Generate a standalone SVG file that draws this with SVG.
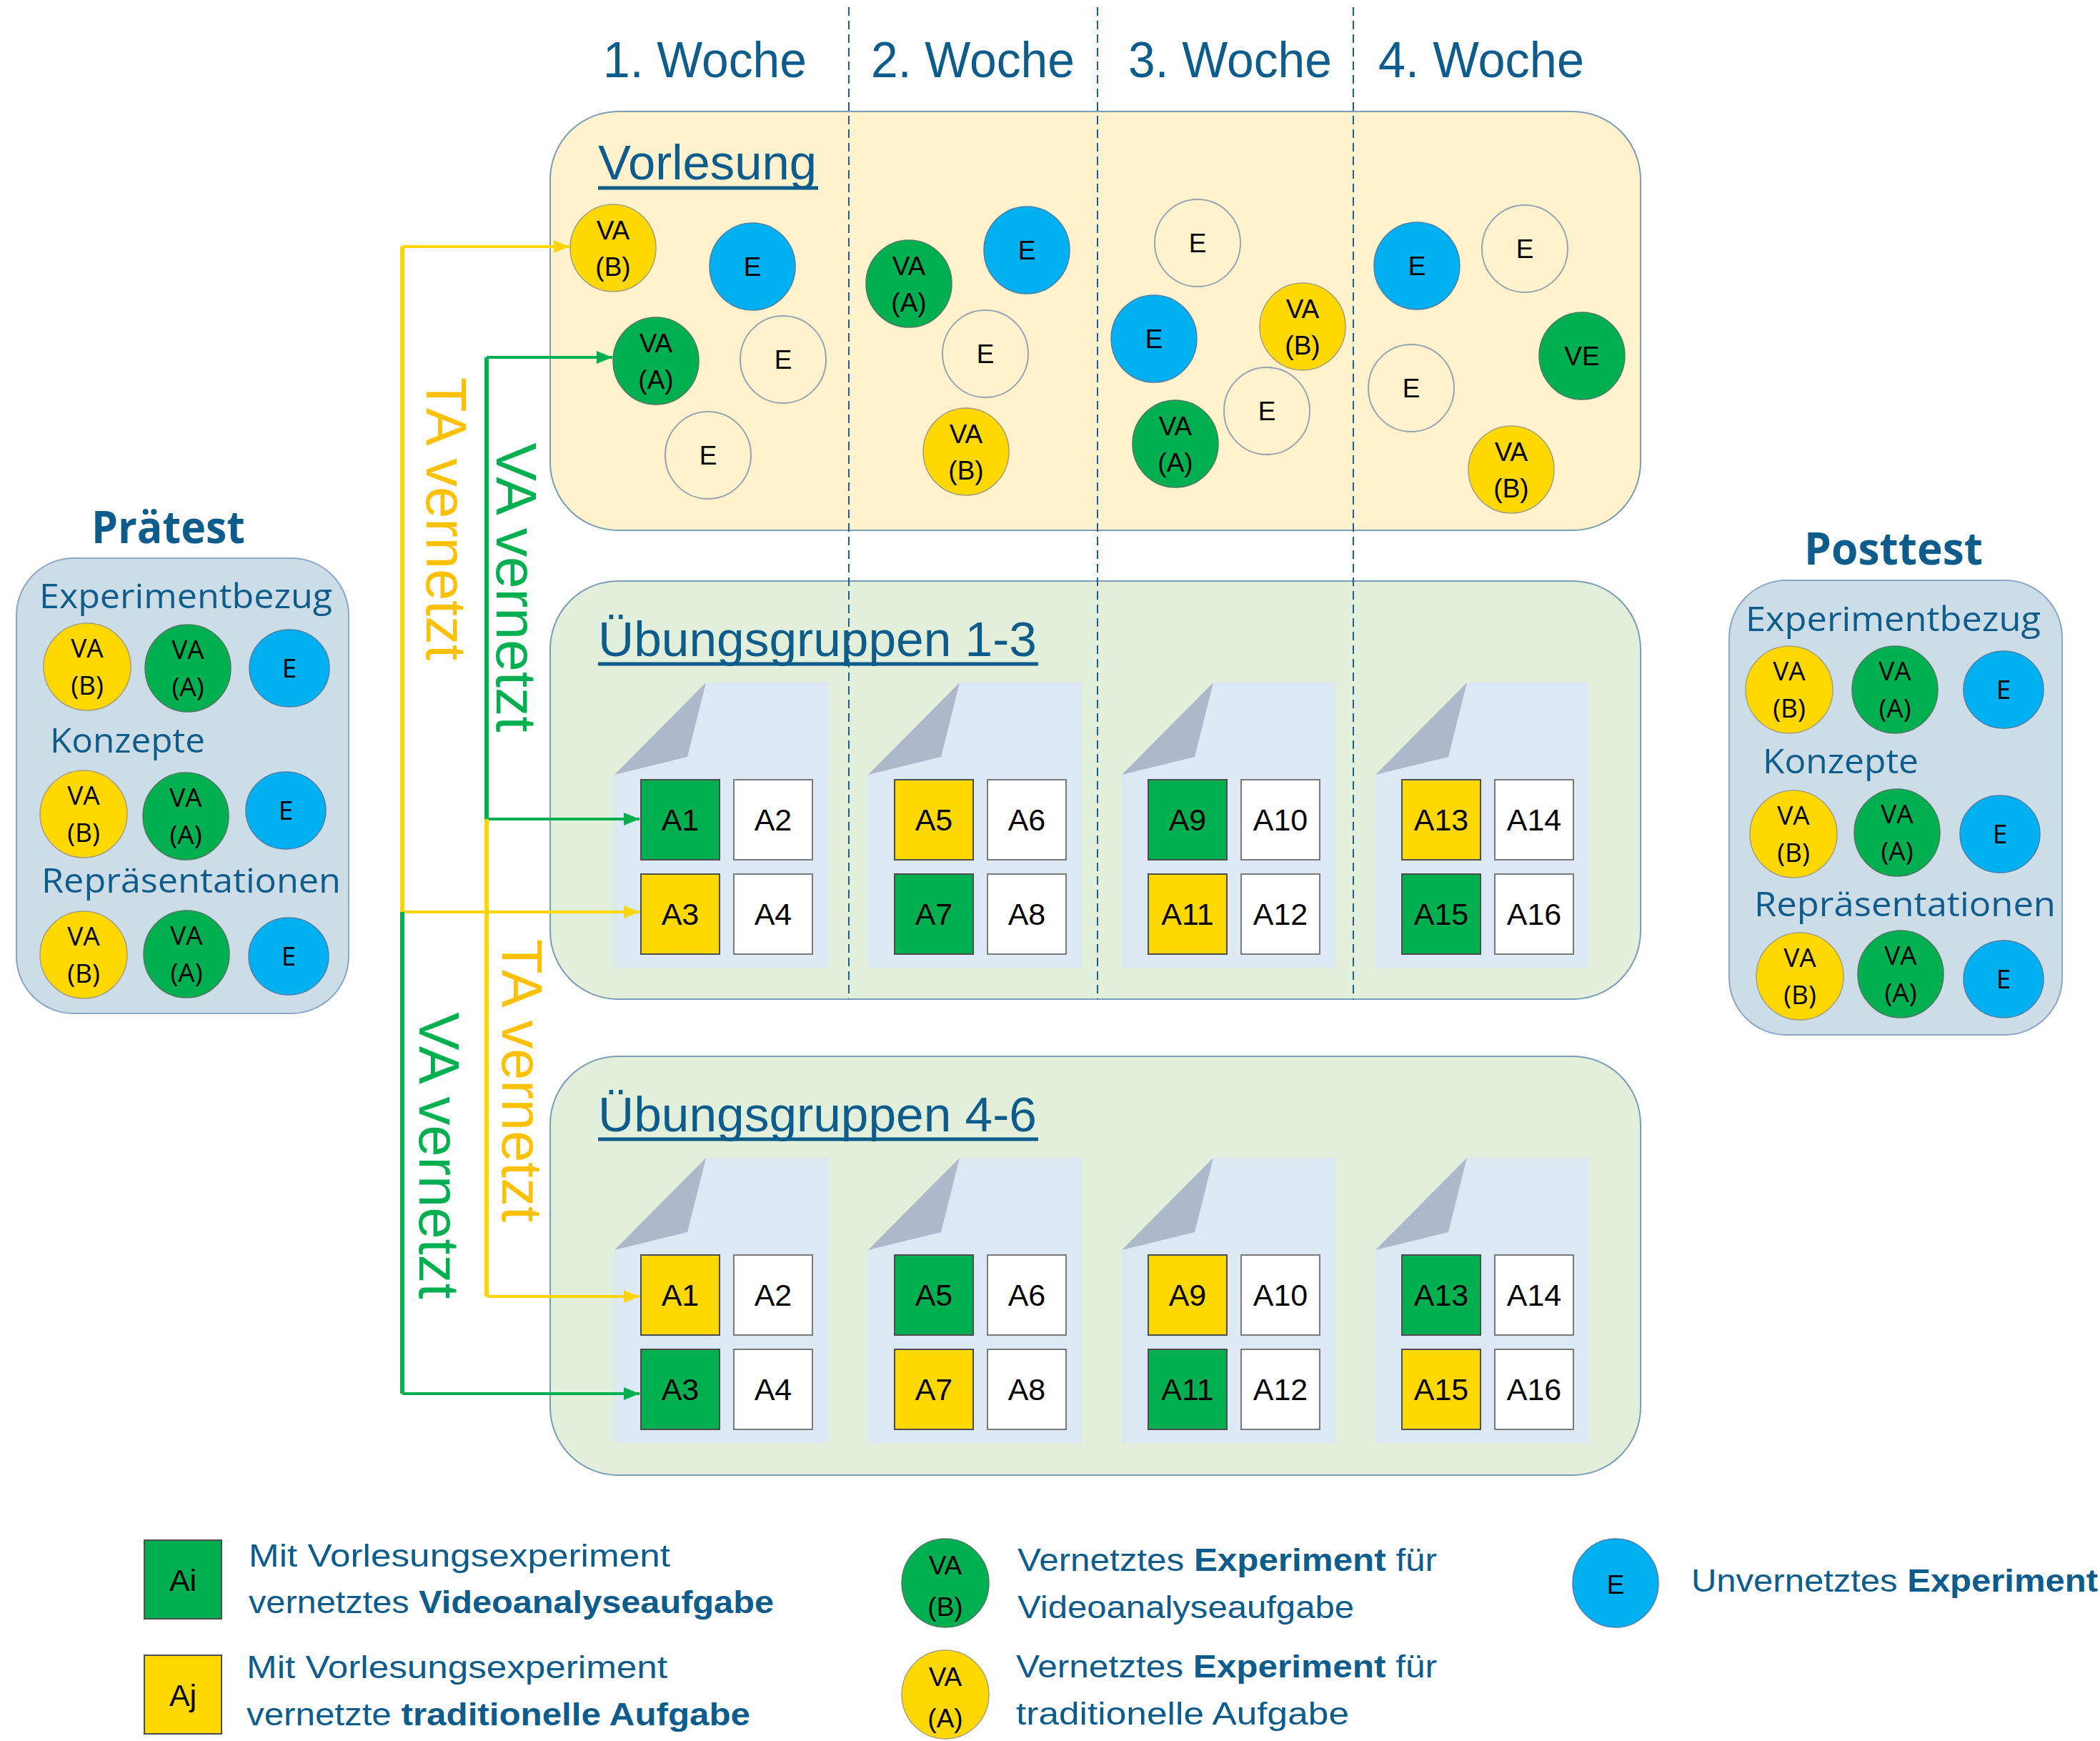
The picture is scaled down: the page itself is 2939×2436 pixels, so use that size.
<svg xmlns="http://www.w3.org/2000/svg" width="2939" height="2436" viewBox="0 0 2939 2436">
<defs>
<style>
.hd{font-family:"Liberation Sans",Arial,sans-serif;fill:#0D5C8C}
.os{font-family:"Open Sans","Liberation Sans",sans-serif;fill:#0D5C8C}
.ob{font-family:"Open Sans","Liberation Sans",sans-serif;font-weight:bold;fill:#0D5C8C}
.lb{font-family:"Liberation Sans",Arial,sans-serif;font-size:37px;fill:#000;text-anchor:middle}
.lo{font-family:"Open Sans","Liberation Sans",sans-serif;font-size:37px;fill:#000;text-anchor:middle}
.ax{font-family:"Liberation Sans",Arial,sans-serif;font-size:43px;fill:#000;text-anchor:middle}
.cy{fill:#FFD800;stroke:#A89F7A;stroke-width:1.5}
.cg{fill:#00AF50;stroke:#4A7A60;stroke-width:1.5}
.cb{fill:#00B0F0;stroke:#4A80A8;stroke-width:1.5}
.cw{fill:none;stroke:#98A4B4;stroke-width:2}
.bv{fill:#FFF2CC;stroke:#7C9CB8;stroke-width:2}
.bu{fill:#E2EFDA;stroke:#7C9CB8;stroke-width:2}
.bp{fill:#CCDDE8;stroke:#8CA6C6;stroke-width:2}
.pg{fill:#DCE8F4}
.fd{fill:#ADB9CA}
.xg{fill:#00AF50;stroke:#4D4D4D;stroke-width:2}
.xy{fill:#FFD800;stroke:#4D4D4D;stroke-width:2}
.xw{fill:#FFFFFF;stroke:#7A7A7A;stroke-width:2}
.dash{stroke:#1F5F8E;stroke-width:2;stroke-dasharray:12 7;fill:none}
.ul{stroke:#0D5C8C;stroke-width:5}
.ly{stroke:#FFD500;fill:none}
.lg{stroke:#00AF50;fill:none}
.rt{font-family:"Liberation Sans",Arial,sans-serif;font-size:80px;text-anchor:middle}
.lt{font-family:"Liberation Sans",Arial,sans-serif;font-size:45px;fill:#0D5C8C}
</style>
<marker id="ay" markerUnits="userSpaceOnUse" markerWidth="24" markerHeight="18" refX="22" refY="9" orient="auto"><path d="M0,0 L22,9 L0,18 Z" fill="#FFD500"/></marker>
<marker id="ag" markerUnits="userSpaceOnUse" markerWidth="24" markerHeight="18" refX="22" refY="9" orient="auto"><path d="M0,0 L22,9 L0,18 Z" fill="#00AF50"/></marker>
</defs>
<rect width="2939" height="2436" fill="#FFFFFF"/>

<!-- Week headings -->
<g id="weeks">
<text class="hd" x="844" y="108" font-size="71" textLength="285" lengthAdjust="spacingAndGlyphs">1. Woche</text>
<text class="hd" x="1219" y="108" font-size="71" textLength="285" lengthAdjust="spacingAndGlyphs">2. Woche</text>
<text class="hd" x="1579" y="108" font-size="71" textLength="285" lengthAdjust="spacingAndGlyphs">3. Woche</text>
<text class="hd" x="1929" y="108" font-size="71" textLength="288" lengthAdjust="spacingAndGlyphs">4. Woche</text>
</g>

<!-- Vorlesung -->
<g id="vorlesung">
<rect class="bv" x="770" y="156" width="1526" height="586" rx="95"/>
<text class="hd" x="837" y="251" font-size="68" textLength="306" lengthAdjust="spacingAndGlyphs">Vorlesung</text>
<line class="ul" x1="837" y1="263" x2="1145" y2="263"/>
</g>

<!-- Übungsgruppen 1-3 -->
<g id="uebung13">
<rect class="bu" x="770" y="813" width="1526" height="585" rx="95"/>
<text class="hd" x="837" y="918" font-size="68" textLength="614" lengthAdjust="spacingAndGlyphs">Übungsgruppen 1-3</text>
<line class="ul" x1="837" y1="929" x2="1453" y2="929"/>
</g>

<!-- Übungsgruppen 4-6 -->
<g id="uebung46">
<rect class="bu" x="770" y="1478" width="1526" height="586" rx="95"/>
<text class="hd" x="837" y="1583" font-size="68" textLength="614" lengthAdjust="spacingAndGlyphs">Übungsgruppen 4-6</text>
<line class="ul" x1="837" y1="1594" x2="1453" y2="1594"/>
</g>

<!-- Vorlesung experiments -->
<g id="v1-vab"><ellipse class="cy" cx="858" cy="347" rx="60" ry="61"/><text class="lb" x="858" y="335">VA</text><text class="lb" x="858" y="386">(B)</text></g>
<g id="v1-e1"><ellipse class="cb" cx="1053" cy="373" rx="60" ry="61"/><text class="lb" x="1053" y="386">E</text></g>
<g id="v1-vaa"><ellipse class="cg" cx="918" cy="505" rx="60" ry="61"/><text class="lb" x="918" y="493">VA</text><text class="lb" x="918" y="544">(A)</text></g>
<g id="v1-e2"><ellipse class="cw" cx="1096" cy="503" rx="60" ry="61"/><text class="lb" x="1096" y="516">E</text></g>
<g id="v1-e3"><ellipse class="cw" cx="991" cy="637" rx="60" ry="61"/><text class="lb" x="991" y="650">E</text></g>

<g id="v2-vaa"><ellipse class="cg" cx="1272" cy="397" rx="60" ry="61"/><text class="lb" x="1272" y="385">VA</text><text class="lb" x="1272" y="436">(A)</text></g>
<g id="v2-e1"><ellipse class="cb" cx="1437" cy="350" rx="60" ry="61"/><text class="lb" x="1437" y="363">E</text></g>
<g id="v2-e2"><ellipse class="cw" cx="1379" cy="495" rx="60" ry="61"/><text class="lb" x="1379" y="508">E</text></g>
<g id="v2-vab"><ellipse class="cy" cx="1352" cy="632" rx="60" ry="61"/><text class="lb" x="1352" y="620">VA</text><text class="lb" x="1352" y="671">(B)</text></g>

<g id="v3-e1"><ellipse class="cw" cx="1676" cy="340" rx="60" ry="61"/><text class="lb" x="1676" y="353">E</text></g>
<g id="v3-e2"><ellipse class="cb" cx="1615" cy="474" rx="60" ry="61"/><text class="lb" x="1615" y="487">E</text></g>
<g id="v3-vab"><ellipse class="cy" cx="1823" cy="457" rx="60" ry="61"/><text class="lb" x="1823" y="445">VA</text><text class="lb" x="1823" y="496">(B)</text></g>
<g id="v3-e3"><ellipse class="cw" cx="1773" cy="575" rx="60" ry="61"/><text class="lb" x="1773" y="588">E</text></g>
<g id="v3-vaa"><ellipse class="cg" cx="1645" cy="621" rx="60" ry="61"/><text class="lb" x="1645" y="609">VA</text><text class="lb" x="1645" y="660">(A)</text></g>

<g id="v4-e1"><ellipse class="cb" cx="1983" cy="372" rx="60" ry="61"/><text class="lb" x="1983" y="385">E</text></g>
<g id="v4-e2"><ellipse class="cw" cx="2134" cy="348" rx="60" ry="61"/><text class="lb" x="2134" y="361">E</text></g>
<g id="v4-ve"><ellipse class="cg" cx="2214" cy="498" rx="60" ry="61"/><text class="lb" x="2214" y="511">VE</text></g>
<g id="v4-e3"><ellipse class="cw" cx="1975" cy="543" rx="60" ry="61"/><text class="lb" x="1975" y="556">E</text></g>
<g id="v4-vab"><ellipse class="cy" cx="2115" cy="657" rx="60" ry="61"/><text class="lb" x="2115" y="645">VA</text><text class="lb" x="2115" y="696">(B)</text></g>

<!-- Worksheets group 1-3 -->
<g id="ws13-1" transform="translate(860,955)">
<polygon class="pg" points="128,0 299,0 299,399 0,399 0,129"/><polygon class="fd" points="128,0 102,104 0,129"/>
<rect class="xg" x="37" y="136" width="110" height="112"/><text class="ax" x="92" y="207">A1</text>
<rect class="xw" x="167" y="136" width="110" height="112"/><text class="ax" x="222" y="207">A2</text>
<rect class="xy" x="37" y="268" width="110" height="112"/><text class="ax" x="92" y="339">A3</text>
<rect class="xw" x="167" y="268" width="110" height="112"/><text class="ax" x="222" y="339">A4</text>
</g>
<g id="ws13-2" transform="translate(1215,955)">
<polygon class="pg" points="128,0 299,0 299,399 0,399 0,129"/><polygon class="fd" points="128,0 102,104 0,129"/>
<rect class="xy" x="37" y="136" width="110" height="112"/><text class="ax" x="92" y="207">A5</text>
<rect class="xw" x="167" y="136" width="110" height="112"/><text class="ax" x="222" y="207">A6</text>
<rect class="xg" x="37" y="268" width="110" height="112"/><text class="ax" x="92" y="339">A7</text>
<rect class="xw" x="167" y="268" width="110" height="112"/><text class="ax" x="222" y="339">A8</text>
</g>
<g id="ws13-3" transform="translate(1570,955)">
<polygon class="pg" points="128,0 299,0 299,399 0,399 0,129"/><polygon class="fd" points="128,0 102,104 0,129"/>
<rect class="xg" x="37" y="136" width="110" height="112"/><text class="ax" x="92" y="207">A9</text>
<rect class="xw" x="167" y="136" width="110" height="112"/><text class="ax" x="222" y="207">A10</text>
<rect class="xy" x="37" y="268" width="110" height="112"/><text class="ax" x="92" y="339">A11</text>
<rect class="xw" x="167" y="268" width="110" height="112"/><text class="ax" x="222" y="339">A12</text>
</g>
<g id="ws13-4" transform="translate(1925,955)">
<polygon class="pg" points="128,0 299,0 299,399 0,399 0,129"/><polygon class="fd" points="128,0 102,104 0,129"/>
<rect class="xy" x="37" y="136" width="110" height="112"/><text class="ax" x="92" y="207">A13</text>
<rect class="xw" x="167" y="136" width="110" height="112"/><text class="ax" x="222" y="207">A14</text>
<rect class="xg" x="37" y="268" width="110" height="112"/><text class="ax" x="92" y="339">A15</text>
<rect class="xw" x="167" y="268" width="110" height="112"/><text class="ax" x="222" y="339">A16</text>
</g>

<!-- Worksheets group 4-6 -->
<g id="ws46-1" transform="translate(860,1620)">
<polygon class="pg" points="128,0 299,0 299,399 0,399 0,129"/><polygon class="fd" points="128,0 102,104 0,129"/>
<rect class="xy" x="37" y="136" width="110" height="112"/><text class="ax" x="92" y="207">A1</text>
<rect class="xw" x="167" y="136" width="110" height="112"/><text class="ax" x="222" y="207">A2</text>
<rect class="xg" x="37" y="268" width="110" height="112"/><text class="ax" x="92" y="339">A3</text>
<rect class="xw" x="167" y="268" width="110" height="112"/><text class="ax" x="222" y="339">A4</text>
</g>
<g id="ws46-2" transform="translate(1215,1620)">
<polygon class="pg" points="128,0 299,0 299,399 0,399 0,129"/><polygon class="fd" points="128,0 102,104 0,129"/>
<rect class="xg" x="37" y="136" width="110" height="112"/><text class="ax" x="92" y="207">A5</text>
<rect class="xw" x="167" y="136" width="110" height="112"/><text class="ax" x="222" y="207">A6</text>
<rect class="xy" x="37" y="268" width="110" height="112"/><text class="ax" x="92" y="339">A7</text>
<rect class="xw" x="167" y="268" width="110" height="112"/><text class="ax" x="222" y="339">A8</text>
</g>
<g id="ws46-3" transform="translate(1570,1620)">
<polygon class="pg" points="128,0 299,0 299,399 0,399 0,129"/><polygon class="fd" points="128,0 102,104 0,129"/>
<rect class="xy" x="37" y="136" width="110" height="112"/><text class="ax" x="92" y="207">A9</text>
<rect class="xw" x="167" y="136" width="110" height="112"/><text class="ax" x="222" y="207">A10</text>
<rect class="xg" x="37" y="268" width="110" height="112"/><text class="ax" x="92" y="339">A11</text>
<rect class="xw" x="167" y="268" width="110" height="112"/><text class="ax" x="222" y="339">A12</text>
</g>
<g id="ws46-4" transform="translate(1925,1620)">
<polygon class="pg" points="128,0 299,0 299,399 0,399 0,129"/><polygon class="fd" points="128,0 102,104 0,129"/>
<rect class="xg" x="37" y="136" width="110" height="112"/><text class="ax" x="92" y="207">A13</text>
<rect class="xw" x="167" y="136" width="110" height="112"/><text class="ax" x="222" y="207">A14</text>
<rect class="xy" x="37" y="268" width="110" height="112"/><text class="ax" x="92" y="339">A15</text>
<rect class="xw" x="167" y="268" width="110" height="112"/><text class="ax" x="222" y="339">A16</text>
</g>

<!-- Week separators -->
<g id="separators">
<line class="dash" x1="1188" y1="10" x2="1188" y2="1398"/>
<line class="dash" x1="1536" y1="10" x2="1536" y2="1398"/>
<line class="dash" x1="1894" y1="10" x2="1894" y2="1398"/>
</g>

<!-- Prätest -->
<g id="praetest">
<text class="ob" x="128" y="760" font-size="62" textLength="215" lengthAdjust="spacingAndGlyphs">Prätest</text>
<rect class="bp" x="23" y="781" width="465" height="637" rx="80"/>
<text class="os" x="55" y="851" font-size="48" textLength="410" lengthAdjust="spacingAndGlyphs">Experimentbezug</text>
<ellipse class="cy" cx="122" cy="933" rx="61" ry="61"/><text class="lo" x="122" y="920">VA</text><text class="lo" x="122" y="972">(B)</text>
<ellipse class="cg" cx="263" cy="935" rx="60" ry="61"/><text class="lo" x="263" y="922">VA</text><text class="lo" x="263" y="974">(A)</text>
<ellipse class="cb" cx="405" cy="935" rx="56" ry="54"/><text class="lo" x="405" y="948">E</text>
<text class="os" x="70" y="1053" font-size="48" textLength="217" lengthAdjust="spacingAndGlyphs">Konzepte</text>
<ellipse class="cy" cx="117" cy="1139" rx="61" ry="61"/><text class="lo" x="117" y="1126">VA</text><text class="lo" x="117" y="1178">(B)</text>
<ellipse class="cg" cx="260" cy="1142" rx="60" ry="61"/><text class="lo" x="260" y="1129">VA</text><text class="lo" x="260" y="1181">(A)</text>
<ellipse class="cb" cx="400" cy="1134" rx="56" ry="54"/><text class="lo" x="400" y="1147">E</text>
<text class="os" x="58" y="1249" font-size="48" textLength="419" lengthAdjust="spacingAndGlyphs">Repräsentationen</text>
<ellipse class="cy" cx="117" cy="1336" rx="61" ry="61"/><text class="lo" x="117" y="1323">VA</text><text class="lo" x="117" y="1375">(B)</text>
<ellipse class="cg" cx="261" cy="1335" rx="60" ry="61"/><text class="lo" x="261" y="1322">VA</text><text class="lo" x="261" y="1374">(A)</text>
<ellipse class="cb" cx="404" cy="1338" rx="56" ry="54"/><text class="lo" x="404" y="1351">E</text>
</g>

<!-- Posttest -->
<g id="posttest">
<text class="ob" x="2525" y="790" font-size="62" textLength="250" lengthAdjust="spacingAndGlyphs">Posttest</text>
<rect class="bp" x="2420" y="812" width="466" height="636" rx="80"/>
<text class="os" x="2443" y="883" font-size="48" textLength="413" lengthAdjust="spacingAndGlyphs">Experimentbezug</text>
<ellipse class="cy" cx="2504" cy="965" rx="61" ry="61"/><text class="lo" x="2504" y="952">VA</text><text class="lo" x="2504" y="1004">(B)</text>
<ellipse class="cg" cx="2652" cy="965" rx="60" ry="61"/><text class="lo" x="2652" y="952">VA</text><text class="lo" x="2652" y="1004">(A)</text>
<ellipse class="cb" cx="2804" cy="965" rx="56" ry="54"/><text class="lo" x="2804" y="978">E</text>
<text class="os" x="2467" y="1082" font-size="48" textLength="218" lengthAdjust="spacingAndGlyphs">Konzepte</text>
<ellipse class="cy" cx="2510" cy="1167" rx="61" ry="61"/><text class="lo" x="2510" y="1154">VA</text><text class="lo" x="2510" y="1206">(B)</text>
<ellipse class="cg" cx="2655" cy="1165" rx="60" ry="61"/><text class="lo" x="2655" y="1152">VA</text><text class="lo" x="2655" y="1204">(A)</text>
<ellipse class="cb" cx="2799" cy="1167" rx="56" ry="54"/><text class="lo" x="2799" y="1180">E</text>
<text class="os" x="2455" y="1282" font-size="48" textLength="422" lengthAdjust="spacingAndGlyphs">Repräsentationen</text>
<ellipse class="cy" cx="2519" cy="1366" rx="61" ry="61"/><text class="lo" x="2519" y="1353">VA</text><text class="lo" x="2519" y="1405">(B)</text>
<ellipse class="cg" cx="2660" cy="1363" rx="60" ry="61"/><text class="lo" x="2660" y="1350">VA</text><text class="lo" x="2660" y="1402">(A)</text>
<ellipse class="cb" cx="2804" cy="1370" rx="56" ry="54"/><text class="lo" x="2804" y="1383">E</text>
</g>

<!-- Connectors -->
<g id="connectors">
<path class="ly" stroke-width="6" d="M563,345 V1276"/>
<path class="ly" stroke-width="4" d="M563,345 H797" marker-end="url(#ay)"/>
<path class="ly" stroke-width="4" d="M563,1276 H895" marker-end="url(#ay)"/>
<path class="lg" stroke-width="6" d="M681,500 V1146"/>
<path class="lg" stroke-width="4" d="M681,500 H857" marker-end="url(#ag)"/>
<path class="lg" stroke-width="4" d="M681,1146 H895" marker-end="url(#ag)"/>
<path class="ly" stroke-width="6" d="M681,1146 V1814"/>
<path class="ly" stroke-width="4" d="M681,1814 H895" marker-end="url(#ay)"/>
<path class="lg" stroke-width="6" d="M563,1276 V1950"/>
<path class="lg" stroke-width="4" d="M563,1950 H895" marker-end="url(#ag)"/>
<text class="rt" fill="#FFC000" transform="translate(597,726) rotate(90)" textLength="396" lengthAdjust="spacingAndGlyphs">TA vernetzt</text>
<text class="rt" fill="#00AF50" transform="translate(695,822) rotate(90)" textLength="405" lengthAdjust="spacingAndGlyphs">VA vernetzt</text>
<text class="rt" fill="#FFC000" transform="translate(703,1512) rotate(90)" textLength="396" lengthAdjust="spacingAndGlyphs">TA vernetzt</text>
<text class="rt" fill="#00AF50" transform="translate(587,1617) rotate(90)" textLength="401" lengthAdjust="spacingAndGlyphs">VA vernetzt</text>
</g>

<!-- Legend -->
<g id="legend-ai">
<rect class="xg" x="202" y="2155" width="108" height="110"/><text class="ax" x="256" y="2226" font-size="42">Ai</text>
<text class="lt" x="348" y="2192" textLength="590" lengthAdjust="spacingAndGlyphs">Mit Vorlesungsexperiment</text>
<text class="lt" x="348" y="2257" textLength="735" lengthAdjust="spacingAndGlyphs">vernetztes <tspan font-weight="bold">Videoanalyseaufgabe</tspan></text>
</g>
<g id="legend-aj">
<rect class="xy" x="202" y="2316" width="108" height="110"/><text class="ax" x="256" y="2387" font-size="42">Aj</text>
<text class="lt" x="345" y="2348" textLength="589" lengthAdjust="spacingAndGlyphs">Mit Vorlesungsexperiment</text>
<text class="lt" x="345" y="2414" textLength="705" lengthAdjust="spacingAndGlyphs">vernetzte <tspan font-weight="bold">traditionelle Aufgabe</tspan></text>
</g>
<g id="legend-vab">
<ellipse class="cg" cx="1323" cy="2215" rx="61" ry="62"/><text class="lb" x="1323" y="2203" font-size="40">VA</text><text class="lb" x="1323" y="2261" font-size="40">(B)</text>
<text class="lt" x="1424" y="2198" textLength="587" lengthAdjust="spacingAndGlyphs">Vernetztes <tspan font-weight="bold">Experiment</tspan> für</text>
<text class="lt" x="1424" y="2264" textLength="471" lengthAdjust="spacingAndGlyphs">Videoanalyseaufgabe</text>
</g>
<g id="legend-vaa">
<ellipse class="cy" cx="1323" cy="2371" rx="61" ry="62"/><text class="lb" x="1323" y="2359" font-size="40">VA</text><text class="lb" x="1323" y="2417" font-size="40">(A)</text>
<text class="lt" x="1422" y="2347" textLength="589" lengthAdjust="spacingAndGlyphs">Vernetztes <tspan font-weight="bold">Experiment</tspan> für</text>
<text class="lt" x="1422" y="2413" textLength="466" lengthAdjust="spacingAndGlyphs">traditionelle Aufgabe</text>
</g>
<g id="legend-e">
<ellipse class="cb" cx="2261" cy="2215" rx="60" ry="62"/><text class="lb" x="2261" y="2230" font-size="40">E</text>
<text class="lt" x="2367" y="2227" textLength="569" lengthAdjust="spacingAndGlyphs">Unvernetztes <tspan font-weight="bold">Experiment</tspan></text>
</g>
</svg>
